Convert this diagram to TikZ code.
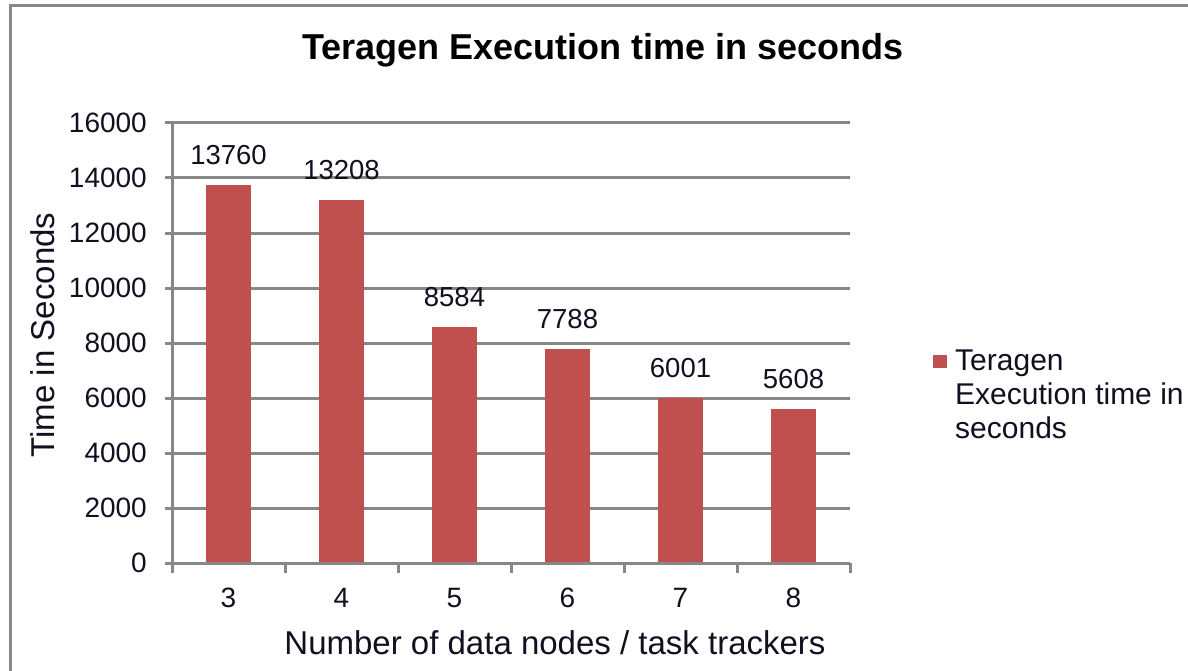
\documentclass[tikz,border=0pt]{standalone}
\usepackage{fontspec}
\setmainfont{Liberation Sans}
\definecolor{barred}{HTML}{C0504D}
\definecolor{gridgray}{HTML}{878787}
\definecolor{textdark}{HTML}{101020}
\begin{document}
\begin{tikzpicture}[x=1pt,y=-1pt,
  frame/.style={draw=gridgray,line width=3pt},
  gridline/.style={draw=gridgray,line width=3pt},
  axisline/.style={draw=gridgray,line width=3pt},
  bar/.style={fill=barred},
  ticklbl/.style={font=\fontsize{28}{32}\selectfont,text=textdark,inner sep=0pt},
  datalbl/.style={font=\fontsize{27.5}{32}\selectfont,text=textdark,inner sep=0pt},
  axistitle/.style={font=\fontsize{33}{36}\selectfont,text=textdark,inner sep=0pt},
  legendtxt/.style={font=\fontsize{30}{34}\selectfont,text=textdark,inner sep=0pt,anchor=base west},
  charttitle/.style={font=\bfseries\fontsize{36}{40}\selectfont,text=black,inner sep=0pt}]
\useasboundingbox (0,0) rectangle (1188,671);
\fill[white] (0,0) rectangle (1188,671);

% chart frame (left and top edges)
\draw[frame] (10,675) -- (10,6) -- (1192,6);

% title
\node[charttitle] (title) at (603,50) {Teragen Execution time in seconds};

% horizontal gridlines with value labels
\foreach \v in {0,...,8} {
  \pgfmathsetmacro{\gy}{563-55*\v}
  \pgfmathtruncatemacro{\val}{2000*\v}
  \draw[gridline] (165,\gy) -- (850,\gy);
  \node[ticklbl,anchor=east] (y\v) at (147,\gy) {\val};
}

% axes
\draw[axisline] (172,123) -- (172,563);
\draw[axisline] (172,563) -- (850,563);
\foreach \k in {0,...,6} {
  \draw[axisline] (172+113*\k,563) -- (172+113*\k,573);
}

% bars, value labels and category labels
\foreach \v [count=\i from 0] in {13760,13208,8584,7788,6001,5608} {
  \pgfmathsetmacro{\cx}{228.5+113*\i}
  \pgfmathsetmacro{\top}{563-\v*0.0275}
  \fill[bar] (\cx-22.5,\top) rectangle (\cx+22.5,561.5);
  \node[datalbl] (d\i) at (\cx,\top-30) {\v};
  \pgfmathtruncatemacro{\cat}{3+\i}
  \node[ticklbl] (c\i) at (\cx,598) {\cat};
}

% axis titles
\node[axistitle] (xtitle) at (555,643) {Number of data nodes / task trackers};
\node[axistitle,rotate=90] (ytitle) at (43,335) {Time in Seconds};

% legend
\fill[bar] (933,355) rectangle (947,368);
\node[legendtxt] (leg1) at (955,370) {Teragen};
\node[legendtxt] (leg2) at (955,404) {Execution time in};
\node[legendtxt] (leg3) at (955,438) {seconds};
\end{tikzpicture}
\end{document}
